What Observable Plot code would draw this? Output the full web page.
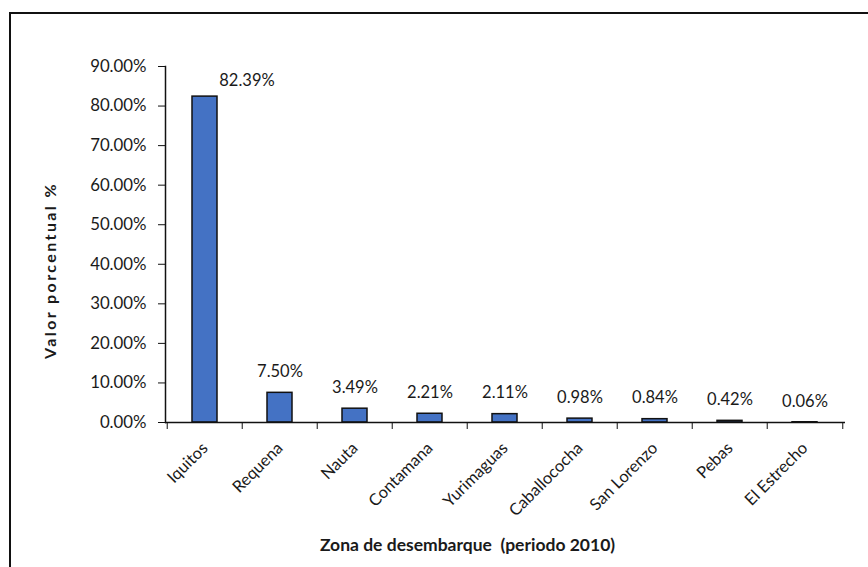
<!DOCTYPE html>
<html>
<head>
<meta charset="utf-8">
<script src="https://cdn.jsdelivr.net/npm/d3@7"></script>
<script src="https://cdn.jsdelivr.net/npm/@observablehq/plot@0.6"></script>
<style>
  body { margin: 0; background: #fff; }
  #wrap { position: relative; width: 868px; height: 567px; overflow: hidden; }
  #wrap svg { position: absolute; left: 0; top: 0; }
  #border { position: absolute; left: 9px; top: 12px; width: 900px; height: 600px;
            border: 2px solid #111; pointer-events: none; }
</style>
</head>
<body>
<div id="wrap"><div id="border"></div></div>
<script>
// Zonas de desembarque y su participación porcentual (periodo 2010)
const zonas = ["Iquitos", "Requena", "Nauta", "Contamana", "Yurimaguas",
               "Caballococha", "San Lorenzo", "Pebas", "El Estrecho"];
const porcentajes = [82.39, 7.50, 3.49, 2.21, 2.11, 0.98, 0.84, 0.42, 0.06];
const yTicks = [0, 10, 20, 30, 40, 50, 60, 70, 80, 90];
const tituloX = "Zona de desembarque  (periodo 2010)";
const tituloY = "Valor porcentual %";

const data = zonas.map((zona, i) => ({zona, valor: porcentajes[i]}));

const W = 868, H = 567;
const mL = 165, mR = 23, mT = 66, mB = 145;
const step = (W - mL - mR) / zonas.length;
const fmt = v => v.toFixed(2) + "%";
const ink = "#1a1a1a";

const chart = Plot.plot({
  width: W, height: H,
  marginLeft: mL, marginRight: mR, marginTop: mT, marginBottom: mB,
  style: {fontFamily: "Lato, sans-serif", fontSize: "16.5px", color: ink, background: "transparent", overflow: "visible"},
  x: {domain: zonas, paddingInner: 0.66, paddingOuter: 0.33, label: null},
  y: {domain: [0, 90], label: null},
  marks: [
    Plot.barY(data, {x: "zona", y: "valor", fill: "#4472C4", stroke: "#111", strokeWidth: 1.5}),
    Plot.ruleY([0], {stroke: "#111", strokeWidth: 1.5}),
    Plot.frame({anchor: "left", stroke: "#111", strokeWidth: 1.5}),
    Plot.axisY({ticks: yTicks, tickFormat: fmt, tickSize: 7, tickPadding: 12, label: null, stroke: "#111", fontSize: 16.8}),
    // tick marks at band edges
    Plot.axisX({tickSize: 7, tickFormat: () => "", dx: -step / 2, label: null, stroke: "#111"}),
    Plot.axisX([zonas[zonas.length - 1]], {tickSize: 7, tickFormat: () => "", dx: step / 2, label: null, stroke: "#111"}),
    // rotated category labels
    Plot.axisX({tickSize: 0, tickRotate: -45, tickPadding: 23, label: null, fontSize: 16.5}),
    // value labels
    Plot.text(data.slice(1), {x: "zona", y: "valor", text: d => fmt(d.valor), dy: -21, fill: ink, fontSize: 16.5}),
    Plot.text(data.slice(0, 1), {x: "zona", y: "valor", text: d => fmt(d.valor), dx: 42, dy: -16, fill: ink, fontSize: 16.5}),
    // axis titles
    Plot.text([tituloX], {frameAnchor: "bottom", text: d => d, textAnchor: "middle", lineAnchor: "middle",
      dx: 467 - (mL + (W - mL - mR) / 2), dy: 123,
      fontWeight: "bold", fontSize: 17.5, fill: ink}),
    Plot.text([tituloY], {frameAnchor: "left", text: d => d, textAnchor: "middle", lineAnchor: "middle", rotate: -90,
      dx: 50 - mL, dy: 270 - (mT + (H - mT - mB) / 2),
      fontWeight: "bold", fontSize: 16, fill: ink})
  ]
});

// the vertical title is set with wider letter spacing
d3.select(chart).selectAll("text")
  .filter(function () { return this.textContent === tituloY; })
  .style("letter-spacing", "2.4px");

document.getElementById("wrap").prepend(chart);
</script>
</body>
</html>
